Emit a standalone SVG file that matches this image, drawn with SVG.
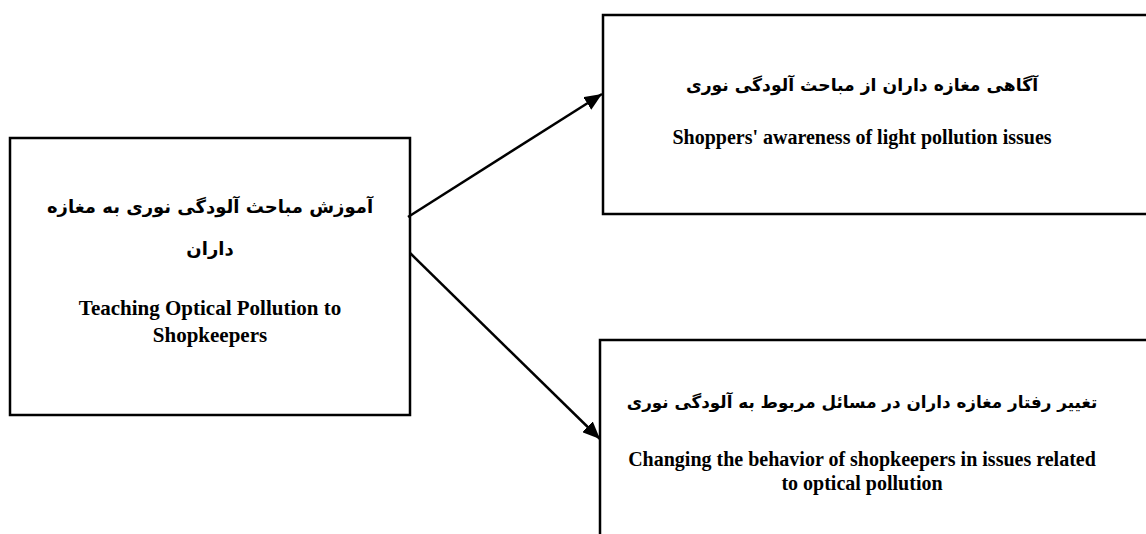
<svg xmlns="http://www.w3.org/2000/svg" width="1146" height="534" viewBox="0 0 1146 534">
<style>
.box{fill:#fff;stroke:#000;stroke-width:2.5}
.fa{font-family:"DejaVu Sans","Noto Sans",sans-serif;font-weight:bold;font-size:18px;fill:#000;text-anchor:middle}
.en{font-family:"Liberation Serif",serif;font-weight:bold;font-size:20px;fill:#000;text-anchor:middle}
.conn{stroke:#000;stroke-width:2.5;fill:none}
</style>
<defs>
<marker id="ah" viewBox="0 0 10 10" refX="10" refY="5" markerWidth="7" markerHeight="6" markerUnits="strokeWidth" orient="auto" preserveAspectRatio="none">
<path d="M0,0 L10,5 L0,10 Z" fill="#000"/>
</marker>
</defs>
<g id="node-teaching">
<rect class="box" x="10" y="138" width="400" height="277"/>
<text class="fa" x="210" y="213" direction="rtl">آموزش مباحث آلودگی نوری به مغازه</text>
<text class="fa" x="210" y="255" direction="rtl">داران</text>
<text class="en" x="210" y="315" style="font-size:21px">Teaching Optical Pollution to</text>
<text class="en" x="210" y="342" style="font-size:21px">Shopkeepers</text>
</g>
<g id="node-awareness">
<rect class="box" x="603" y="15" width="560" height="199"/>
<text class="fa" x="862" y="91" direction="rtl" style="font-size:17.2px">آگاهی مغازه داران از مباحث آلودگی نوری</text>
<text class="en" x="862" y="144">Shoppers' awareness of light pollution issues</text>
</g>
<g id="node-behavior">
<rect class="box" x="600" y="340" width="560" height="220"/>
<text class="fa" x="862" y="408" direction="rtl" style="font-size:16.8px">تغییر رفتار مغازه داران در مسائل مربوط به آلودگی نوری</text>
<text class="en" x="862" y="466">Changing the behavior of shopkeepers in issues related</text>
<text class="en" x="862" y="490">to optical pollution</text>
</g>
<g id="connectors">
<line class="conn" x1="408" y1="217" x2="602" y2="94" marker-end="url(#ah)"/>
<line class="conn" x1="410" y1="253" x2="600" y2="439" marker-end="url(#ah)"/>
</g>
</svg>
